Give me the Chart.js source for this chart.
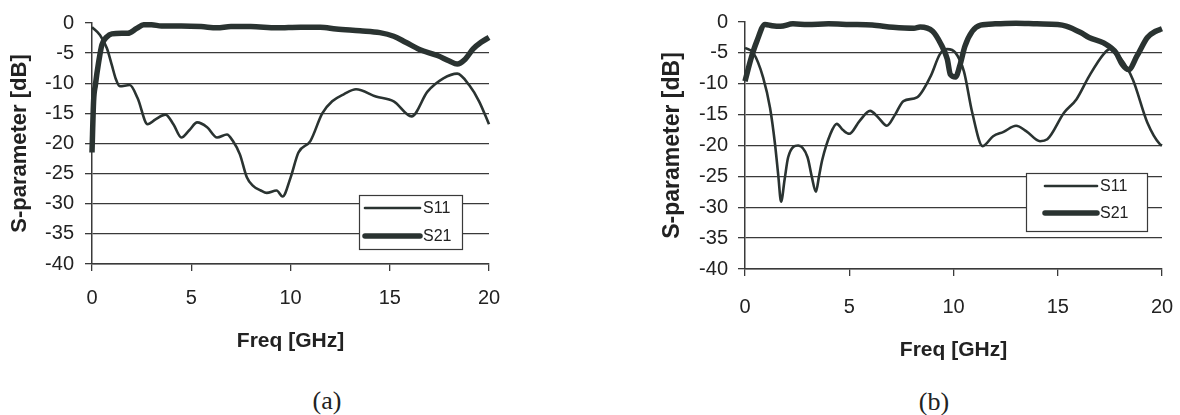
<!DOCTYPE html>
<html><head><meta charset="utf-8">
<script src="https://cdn.jsdelivr.net/npm/chart.js@4.4.1/dist/chart.umd.min.js"></script>
<style>
html,body{margin:0;padding:0;background:#fff;width:1180px;height:415px;overflow:hidden;position:relative;}
#ca{position:absolute;left:0;top:0;}
#cb{position:absolute;left:640px;top:0;}
.cap{position:absolute;font-family:"Liberation Serif","Times New Roman",serif;font-size:26px;color:#222;transform:translate(-50%,-50%);white-space:nowrap;}
</style></head><body>
<canvas id="ca" width="520" height="370"></canvas>
<canvas id="cb" width="570" height="380"></canvas>
<div class="cap" style="left:327px;top:401px">(a)</div>
<div class="cap" style="left:934px;top:402px">(b)</div>
<script>
// ---- data ----
const seriesNames = ["S11", "S21"];
const xTickValues = [0, 5, 10, 15, 20];
const yTickValues = [0, -5, -10, -15, -20, -25, -30, -35, -40];
const xTitle = "Freq [GHz]";
const yTitle = "S-parameter [dB]";

// (a)
const freqA_S11 = [0, 0.4, 0.75, 1.0, 1.2, 1.4, 1.9, 2.3, 2.8, 3.2, 3.7, 4.1, 4.5, 4.9, 5.3, 5.8, 6.3, 6.8, 7.1, 7.45, 7.8, 8.1, 8.5, 8.8, 9.3, 9.6, 10.0, 10.4, 11.0, 11.6, 12.1, 12.7, 13.3, 14.3, 15.2, 16.1, 16.9, 17.7, 18.4, 19.0, 19.5, 20.0];
const s11A      = [-0.7, -2.0, -4.2, -7.0, -9.3, -10.5, -10.3, -12.5, -16.8, -16.0, -15.2, -16.8, -19.0, -17.8, -16.5, -17.3, -19.0, -18.5, -19.6, -21.8, -25.6, -27.0, -27.8, -28.2, -27.8, -28.8, -25.7, -21.5, -19.6, -15.0, -13.0, -11.8, -11.0, -12.2, -13.0, -15.5, -11.4, -9.2, -8.4, -10.3, -13.0, -16.8];
const freqA_S21 = [0, 0.08, 0.17, 0.34, 0.5, 0.75, 1.0, 1.5, 1.8, 2.25, 2.6, 3.0, 3.5, 4.5, 5.5, 6.3, 7.0, 8.0, 9.3, 10.5, 11.5, 12.3, 13.5, 14.5, 15.2, 15.8, 16.5, 17.4, 18.0, 18.4, 18.8, 19.2, 19.6, 20.0];
const s21A      = [-21.5, -13.0, -10.3, -6.4, -3.6, -2.3, -1.8, -1.7, -1.7, -0.9, -0.3, -0.3, -0.5, -0.5, -0.6, -0.8, -0.6, -0.6, -0.8, -0.7, -0.7, -1.0, -1.3, -1.6, -2.2, -3.2, -4.4, -5.4, -6.3, -6.8, -6.0, -4.3, -3.2, -2.4];

// (b)
const freqB_S11 = [0, 0.4, 0.87, 1.2, 1.44, 1.6, 1.73, 1.9, 2.07, 2.55, 3.0, 3.2, 3.4, 3.55, 3.7, 4.1, 4.4, 4.7, 5.0, 5.5, 6.0, 6.4, 6.8, 7.2, 7.6, 8.25, 8.9, 9.35, 9.7, 10.1, 10.5, 10.9, 11.4, 11.9, 12.4, 13.0, 13.5, 14.15, 14.5, 15.3, 15.9, 16.5, 17.2, 17.5, 18.0, 18.6, 19.3, 19.9, 20.0];
const s11B      = [-4.2, -5.0, -9.0, -13.9, -19.8, -25.0, -29.1, -25.5, -21.9, -20.0, -21.9, -25.0, -27.5, -25.0, -22.4, -18.1, -16.5, -17.5, -18.1, -16.0, -14.4, -15.5, -16.8, -15.0, -12.8, -12.2, -8.8, -5.2, -4.4, -5.0, -8.0, -14.7, -20.1, -18.5, -17.8, -16.8, -17.7, -19.3, -19.0, -14.7, -12.5, -8.8, -5.2, -4.4, -5.8, -9.3, -16.3, -19.8, -20.0];
const freqB_S21 = [0, 0.3, 0.57, 0.96, 1.3, 1.7, 2.3, 3.0, 4.0, 5.0, 6.1, 7.1, 8.1, 8.4, 9.0, 9.4, 9.7, 9.85, 10.1, 10.3, 10.55, 10.9, 11.3, 12.0, 13.0, 14.0, 15.0, 15.4, 16.1, 16.5, 17.2, 17.8, 18.1, 18.4, 18.8, 19.3, 19.7, 20.0];
const s21B      = [-9.6, -5.8, -3.1, -0.4, -0.6, -0.7, -0.3, -0.4, -0.3, -0.4, -0.5, -0.85, -1.0, -0.8, -1.5, -3.6, -6.0, -8.5, -8.9, -7.1, -3.9, -1.5, -0.5, -0.3, -0.2, -0.3, -0.4, -0.65, -1.7, -2.5, -3.4, -5.0, -6.9, -7.7, -5.5, -2.5, -1.5, -1.1];

// ---- styling / chart building ----
const INK = "#2a3331";
const GRID = "#3a3a3a";
Chart.defaults.font.family = "'Liberation Sans', Arial, sans-serif";
Chart.defaults.color = "#222";

const pts = (xs, ys) => xs.map((x, i) => ({x: x, y: ys[i]}));

const boxLegend = {
  id: "boxLegend",
  afterDatasetsDraw(chart, args, o) {
    const ctx = chart.ctx, a = chart.chartArea;
    const bx = a.right - o.right - o.w, by = a.bottom - o.bottom - o.h;
    ctx.save();
    ctx.fillStyle = "#fff";
    ctx.fillRect(bx, by, o.w, o.h);
    ctx.strokeStyle = GRID; ctx.lineWidth = 1.2;
    ctx.strokeRect(bx + 0.5, by + 0.5, o.w, o.h);
    ctx.font = o.fontSize + "px 'Liberation Sans', Arial, sans-serif";
    ctx.textBaseline = "middle"; ctx.textAlign = "left";
    chart.data.datasets.forEach((d, i) => {
      const y = by + o.rows[i];
      ctx.strokeStyle = d.borderColor; ctx.lineWidth = d.borderWidth; ctx.lineCap = "round";
      ctx.beginPath(); ctx.moveTo(bx + o.lineX, y); ctx.lineTo(bx + o.lineX + o.lineLen, y); ctx.stroke();
      ctx.fillStyle = "#222";
      ctx.fillText(d.label, bx + o.lineX + o.lineLen + 3, y + 1);
    });
    ctx.restore();
  }
};

function makeChart(id, s11x, s11y, s21x, s21y, L) {
  return new Chart(document.getElementById(id), {
    type: "line",
    data: {
      datasets: [
        {label: seriesNames[0], data: pts(s11x, s11y), borderColor: INK, borderWidth: 2.6, pointRadius: 0, fill: false, cubicInterpolationMode: "monotone", clip: false},
        {label: seriesNames[1], data: pts(s21x, s21y), borderColor: INK, borderWidth: 5.5, pointRadius: 0, fill: false, cubicInterpolationMode: "monotone", clip: false}
      ]
    },
    options: {
      responsive: false, animation: false, devicePixelRatio: 1,
      layout: {padding: {left: 0, top: L.top, right: L.right, bottom: 0}},
      plugins: {legend: {display: false}, tooltip: {enabled: false}, boxLegend: L.legend},
      scales: {
        x: {
          type: "linear", min: 0, max: 20,
          afterBuildTicks: s => { s.ticks = xTickValues.map(v => ({value: v})); },
          afterFit: s => { s.height = L.xh; },
          ticks: {font: {size: L.tickSize}, color: "#222", padding: L.xPad, maxRotation: 0},
          grid: {display: true, drawOnChartArea: false, drawTicks: true, tickLength: 7, color: GRID, lineWidth: 1.3},
          border: {display: true, color: GRID, width: 1.5},
          title: {display: true, text: xTitle, font: {size: L.xTitleSize, weight: "bold"}, color: "#222", padding: {top: 0, bottom: L.xTitlePad}}
        },
        y: {
          type: "linear", min: -40, max: 0,
          afterBuildTicks: s => { s.ticks = yTickValues.map(v => ({value: v})); },
          afterFit: s => { s.width = L.yw; },
          ticks: {font: {size: L.tickSize}, color: "#222", padding: L.yPad},
          grid: {display: true, drawTicks: true, tickLength: 7, lineWidth: 1.3, tickColor: GRID,
                 color: c => (c.tick && c.tick.value === 0) ? "rgba(0,0,0,0)" : GRID},
          border: {display: true, color: GRID, width: 1.5},
          title: {display: true, text: yTitle, font: {size: L.yTitleSize, weight: "bold"}, color: "#222", padding: {top: L.yTitlePad, bottom: 0}}
        }
      }
    },
    plugins: [boxLegend]
  });
}

makeChart("ca", freqA_S11, s11A, freqA_S21, s21A, {
  top: 21, right: 31, xh: 106, yw: 92, tickSize: 20, xPad: 15, yPad: 11,
  xTitleSize: 21, xTitlePad: 16, yTitleSize: 22, yTitlePad: 7,
  legend: {w: 103, h: 54, right: 27, bottom: 15, rows: [13, 41], lineX: 6, lineLen: 55, fontSize: 16}
});
makeChart("cb", freqB_S11, s11B, freqB_S21, s21B, {
  top: 21, right: 48, xh: 111, yw: 105, tickSize: 20, xPad: 19, yPad: 10,
  xTitleSize: 21, xTitlePad: 17, yTitleSize: 23, yTitlePad: 19,
  legend: {w: 121, h: 58, right: 15, bottom: 38, rows: [13, 40], lineX: 19, lineLen: 52, fontSize: 16}
});
</script>
</body></html>
